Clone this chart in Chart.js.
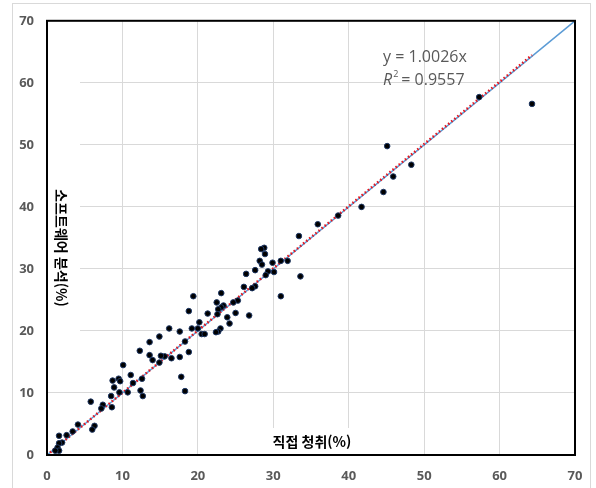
<!DOCTYPE html>
<html lang="ko">
<head>
<meta charset="UTF-8">
<title>직접 청취 vs 소프트웨어 분석</title>
<script src="https://cdn.jsdelivr.net/npm/chart.js@4"></script>
<style>
  html, body { margin: 0; padding: 0; background: #fff; }
  #wrap { width: 596px; height: 488px; }
</style>
</head>
<body>
<div id="wrap"><canvas id="chart" width="596" height="488"></canvas></div>
<script>
// 직접 청취(%) vs 소프트웨어 분석(%)
const directX = [64.3, 57.3, 45.1, 48.3, 45.9, 44.6, 41.7, 38.6, 35.9, 33.4,
  33.6, 31.9, 31.0, 31.0, 30.1, 29.9, 29.3, 29.0, 28.8, 28.4,
  28.9, 28.2, 28.5, 27.6, 26.4, 27.6, 27.2, 26.1, 26.8, 25.3,
  24.7, 25.0, 23.1, 23.4, 23.1, 22.5, 22.7, 22.6, 23.9, 24.2,
  23.0, 22.7, 22.4, 21.3, 20.2, 20.0, 20.5, 20.9, 19.2, 19.4,
  18.8, 17.6, 16.2, 18.8, 18.3, 17.6, 16.5, 17.8, 18.3, 15.6,
  15.1, 14.9, 14.9, 13.6, 13.6, 14.0, 12.3, 12.6, 12.4, 12.7,
  11.4, 11.1, 10.7, 10.1, 9.5, 9.7, 9.6, 8.7, 8.9, 8.5,
  8.6, 7.4, 7.2, 5.8, 6.3, 6.0, 4.1, 3.4, 2.6, 1.6,
  2.0, 1.6, 1.4, 1.6, 1.1];
const softwareY = [56.6, 57.7, 49.8, 46.8, 44.9, 42.4, 40.0, 38.6, 37.2, 35.3,
  28.8, 31.3, 31.3, 25.6, 29.5, 31.0, 29.6, 29.0, 33.4, 33.2,
  32.4, 31.3, 30.7, 29.8, 29.2, 27.2, 26.9, 27.1, 22.5, 24.9,
  24.6, 22.9, 26.1, 24.1, 23.8, 24.6, 23.5, 22.7, 22.2, 21.2,
  20.4, 19.9, 19.8, 22.8, 21.4, 20.4, 19.5, 19.5, 20.4, 25.6,
  23.2, 19.9, 20.4, 16.6, 18.3, 15.8, 15.6, 12.6, 10.3, 15.9,
  16.0, 19.1, 14.9, 18.2, 16.1, 15.3, 16.8, 12.3, 10.4, 9.5,
  11.6, 12.9, 10.1, 14.5, 12.3, 11.9, 10.1, 12.0, 10.9, 9.5,
  7.7, 8.1, 7.5, 8.6, 4.7, 4.1, 4.9, 3.8, 3.2, 3.1,
  2.0, 1.9, 1.2, 0.7, 0.7];

// 추세선 (y = 1.0026x) 과 1:1 선
const trendX = [0, 64.3];
const trendY = [0, 64.47];
const identityX = [0, 70];
const identityY = [0, 70];

const axisTicks = [0, 10, 20, 30, 40, 50, 60, 70];
const xTitle = '직접 청취(%)';
const yTitle = '소프트웨어 분석(%)';
const eqText = ['y = 1.0026x', '0.9557'];

const toPoints = (xs, ys) => xs.map((x, i) => ({ x: x, y: ys[i] }));

const tickFont = { family: 'Open Sans', size: 13, weight: 'bold' };

// 테두리, 축 제목, 수식 텍스트
const decor = {
  id: 'decor',
  beforeDraw(chart) {
    const c = chart.ctx;
    c.save();
    c.strokeStyle = '#d9d9d9';
    c.lineWidth = 1;
    c.strokeRect(12.5, 3.5, 578, 500);
    c.restore();
  },
  beforeDatasetsDraw(chart) {
    const c = chart.ctx, a = chart.chartArea;
    c.save();
    c.fillStyle = '#fff';
    c.fillRect(a.left + 1, a.top + 1, 32, 342);
    c.fillRect(262, 428, 100, a.bottom - 429);
    c.restore();
  },
  afterDatasetsDraw(chart) {
    const c = chart.ctx, a = chart.chartArea;
    c.save();
    c.fillStyle = '#000';
    c.font = 'bold 14px "Noto Sans CJK KR"';
    c.textAlign = 'center';
    c.textBaseline = 'middle';
    c.fillText(xTitle, 312, 442);
    c.translate(61, 248);
    c.rotate(Math.PI / 2);
    c.fillText(yTitle, 0, 0);
    c.restore();

    c.save();
    c.fillStyle = '#595959';
    c.font = '16px "Open Sans"';
    c.textBaseline = 'middle';
    c.fillText(eqText[0], 383, 57);
    c.font = 'italic 16px "Open Sans"';
    c.fillText('R', 383, 80);
    const rw = c.measureText('R').width;
    c.font = '9px "Open Sans"';
    c.fillText('2', 383 + rw + 1, 74);
    c.font = '16px "Open Sans"';
    c.fillText(' = ' + eqText[1], 383 + rw + 5, 80);
    c.restore();

    c.save();
    c.strokeStyle = '#000';
    c.lineWidth = 2;
    c.strokeRect(a.left, a.top, a.right - a.left, a.bottom - a.top);
    c.restore();
  }
};

new Chart(document.getElementById('chart'), {
  type: 'scatter',
  data: {
    datasets: [
      {
        label: '측정값',
        data: toPoints(directX, softwareY),
        backgroundColor: '#000',
        borderColor: '#1f3864',
        borderWidth: 1,
        pointRadius: 2.8
      },
      {
        type: 'line',
        label: '추세선',
        data: toPoints(trendX, trendY),
        borderColor: '#e8141b',
        borderWidth: 2.5,
        borderDash: [1.5, 2.5],
        pointRadius: 0,
        fill: false
      },
      {
        type: 'line',
        label: '1:1',
        data: toPoints(identityX, identityY),
        borderColor: '#5b9bd5',
        borderWidth: 1.5,
        pointRadius: 0,
        fill: false,
        clip: false
      }
    ]
  },
  plugins: [decor],
  options: {
    responsive: false,
    animation: false,
    layout: { padding: { left: 0, right: 21, top: 17, bottom: 0 } },
    plugins: { legend: { display: false }, tooltip: { enabled: false } },
    scales: {
      x: {
        type: 'linear',
        min: 0,
        max: 70,
        afterBuildTicks: s => { s.ticks = axisTicks.map(v => ({ value: v })); },
        afterFit: s => { s.height = 33; },
        grid: { color: '#d9d9d9', drawTicks: false },
        border: { display: false },
        ticks: { color: '#595959', font: tickFont, padding: 13 }
      },
      y: {
        type: 'linear',
        min: 0,
        max: 70,
        afterBuildTicks: s => { s.ticks = axisTicks.map(v => ({ value: v })); },
        afterFit: s => { s.width = 47; },
        grid: { color: '#d9d9d9', drawTicks: false },
        border: { display: false },
        ticks: { color: '#595959', font: tickFont, padding: 13 }
      }
    }
  }
});
</script>
</body>
</html>
